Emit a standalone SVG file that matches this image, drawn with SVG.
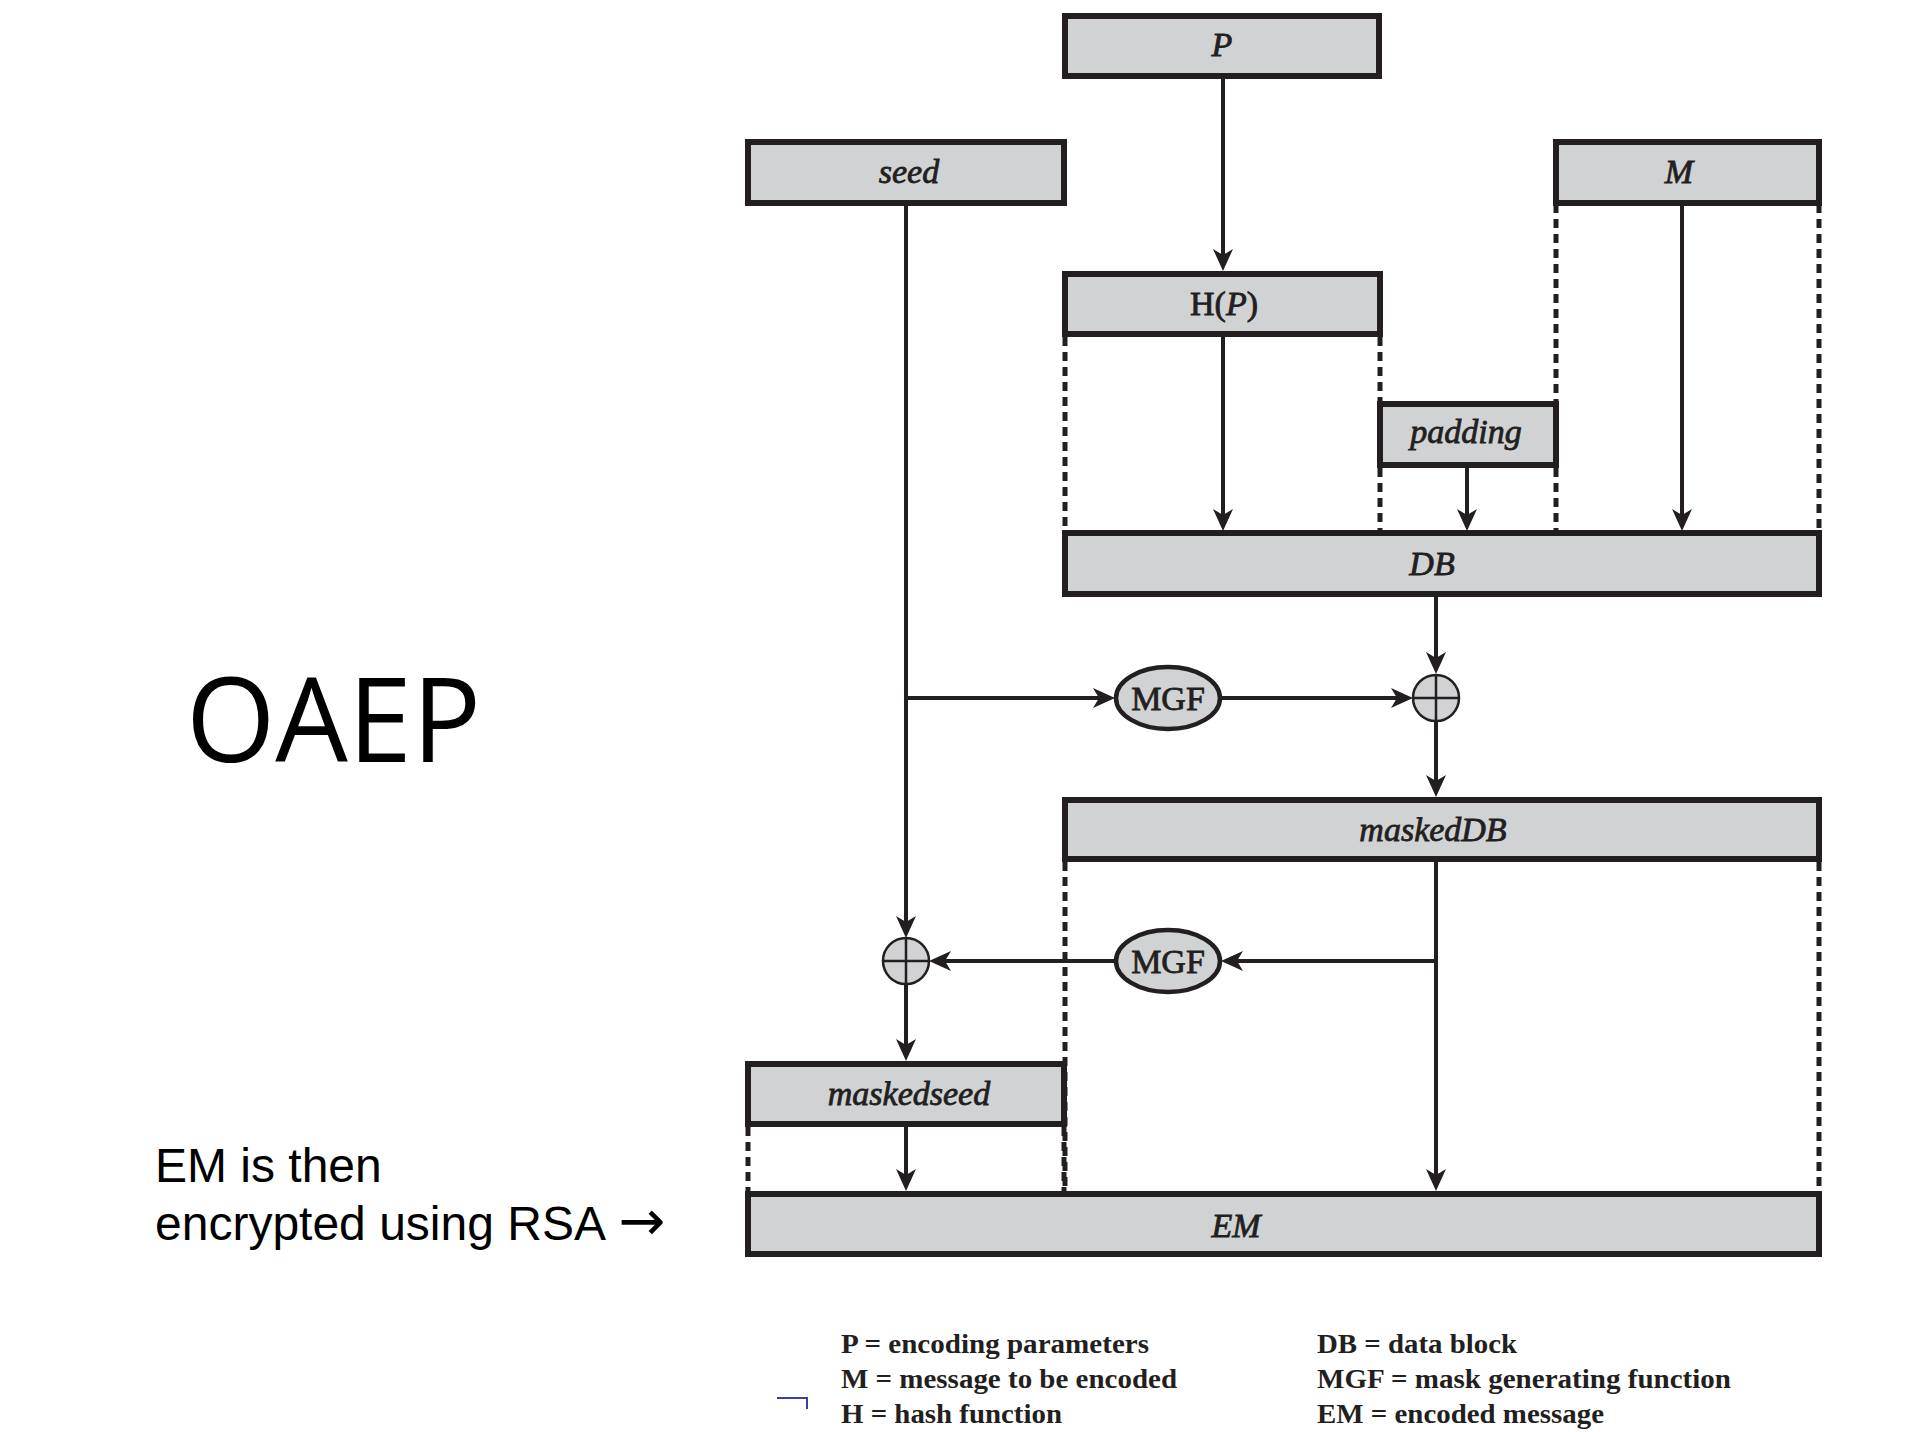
<svg xmlns="http://www.w3.org/2000/svg" width="1908" height="1432" viewBox="0 0 1908 1432">
<defs>
<style>
.box{fill:#d1d2d4;stroke:#231f20;stroke-width:6}
.ell{fill:#d1d2d4;stroke:#231f20;stroke-width:4.5}
.xor{fill:#d1d2d4;stroke:#231f20;stroke-width:2.5}
.xl{stroke:#231f20;stroke-width:2.5;fill:none}
.ln{stroke:#231f20;stroke-width:4;fill:none}
.arr{stroke:#231f20;stroke-width:4;fill:none;marker-end:url(#ah)}
.dash{stroke:#231f20;stroke-width:5;fill:none;stroke-dasharray:9 6}
.lbl{font-family:"Liberation Serif","Times New Roman",serif;font-style:italic;font-size:34px;fill:#231f20;stroke:#231f20;stroke-width:0.8;text-anchor:middle}
.mgf{font-family:"Liberation Serif","Times New Roman",serif;font-size:34px;fill:#231f20;stroke:#231f20;stroke-width:0.8;text-anchor:middle}
.leg{font-family:"Liberation Serif","Times New Roman",serif;font-weight:bold;font-size:28px;fill:#231f20}
.side{font-family:"Liberation Sans",Arial,sans-serif;font-size:48px;fill:#000}
</style>
<marker id="ah" markerUnits="userSpaceOnUse" viewBox="-23 -11 25 22" markerWidth="25" markerHeight="22" refX="-10" refY="0" orient="auto">
<path d="M0,0 L-22,-10 L-16,0 L-22,10 Z" fill="#231f20"/>
</marker>
</defs>
<rect width="1908" height="1432" fill="#fff"/>

<text class="side" x="186" y="762" style="font-family:'Open Sans','Liberation Sans',sans-serif;font-size:118px" textLength="295" lengthAdjust="spacingAndGlyphs">OAEP</text>
<text class="side" x="155" y="1182">EM is then</text>
<text class="side" x="155" y="1240">encrypted using RSA <tspan dx="2" style="font-family:'DejaVu Sans',sans-serif;font-size:56px">→</tspan></text>

<g id="connectors">
<line class="arr" x1="1223" y1="79" x2="1223" y2="261"/>
<line class="ln" x1="906" y1="204" x2="906" y2="700"/>
<line class="arr" x1="906" y1="698" x2="906" y2="928"/>
<line class="arr" x1="904" y1="698" x2="1105" y2="698"/>
<line class="arr" x1="1221" y1="698" x2="1403" y2="698"/>
<line class="arr" x1="1436" y1="597" x2="1436" y2="664"/>
<line class="arr" x1="1436" y1="720" x2="1436" y2="787"/>
<line class="arr" x1="1223" y1="337" x2="1223" y2="521"/>
<line class="arr" x1="1467" y1="468" x2="1467" y2="521"/>
<line class="arr" x1="1682" y1="204" x2="1682" y2="521"/>
<line class="arr" x1="1436" y1="862" x2="1436" y2="1181"/>
<line class="arr" x1="1438" y1="961" x2="1231" y2="961"/>
<line class="arr" x1="1115" y1="961" x2="939" y2="961"/>
<line class="arr" x1="906" y1="984" x2="906" y2="1051"/>
<line class="arr" x1="906" y1="1127" x2="906" y2="1181"/>
<line class="dash" x1="1065" y1="337" x2="1065" y2="531"/>
<line class="dash" x1="1380" y1="337" x2="1380" y2="402"/>
<line class="dash" x1="1380" y1="468" x2="1380" y2="531"/>
<line class="dash" x1="1556" y1="204" x2="1556" y2="402"/>
<line class="dash" x1="1556" y1="468" x2="1556" y2="531"/>
<line class="dash" x1="1819" y1="204" x2="1819" y2="531"/>
<line class="dash" x1="1065" y1="862" x2="1065" y2="1191"/>
<line class="dash" x1="1819" y1="862" x2="1819" y2="1191"/>
<line class="dash" x1="748" y1="1127" x2="748" y2="1191"/>
<line class="dash" x1="1064" y1="1127" x2="1064" y2="1191"/>
</g>

<g id="node-P"><rect class="box" x="1065" y="16" width="314" height="60"/><text class="lbl" x="1222" y="56">P</text></g>
<g id="node-seed"><rect class="box" x="748" y="142" width="316" height="61"/><text class="lbl" x="909" y="183">seed</text></g>
<g id="node-M"><rect class="box" x="1556" y="142" width="263" height="61"/><text class="lbl" x="1679" y="183">M</text></g>
<g id="node-HP"><rect class="box" x="1065" y="274" width="315" height="60"/><text class="mgf" x="1224" y="315">H(<tspan font-style="italic">P</tspan>)</text></g>
<g id="node-padding"><rect class="box" x="1380" y="404" width="176" height="61"/><text class="lbl" x="1466" y="443">padding</text></g>
<g id="node-DB"><rect class="box" x="1065" y="533" width="754" height="61"/><text class="lbl" x="1432" y="575">DB</text></g>
<g id="node-MGF1"><ellipse class="ell" cx="1168" cy="698" rx="52" ry="31"/><text class="mgf" x="1168" y="710">MGF</text></g>
<g id="node-XOR1"><circle class="xor" cx="1436" cy="698" r="23"/><path class="xl" d="M1413,698 H1459 M1436,675 V721"/></g>
<g id="node-maskedDB"><rect class="box" x="1065" y="800" width="754" height="59"/><text class="lbl" x="1433" y="841">maskedDB</text></g>
<g id="node-MGF2"><ellipse class="ell" cx="1168" cy="961" rx="52" ry="31"/><text class="mgf" x="1168" y="973">MGF</text></g>
<g id="node-XOR2"><circle class="xor" cx="906" cy="961" r="23"/><path class="xl" d="M883,961 H929 M906,938 V984"/></g>
<g id="node-maskedseed"><rect class="box" x="748" y="1064" width="316" height="60"/><text class="lbl" x="909" y="1105">maskedseed</text></g>
<g id="node-EM"><rect class="box" x="748" y="1194" width="1071" height="60"/><text class="lbl" x="1236" y="1237">EM</text></g>

<g id="legend">
<text class="leg" x="841" y="1353" textLength="308" lengthAdjust="spacingAndGlyphs">P = encoding parameters</text>
<text class="leg" x="841" y="1388" textLength="336" lengthAdjust="spacingAndGlyphs">M = message to be encoded</text>
<text class="leg" x="841" y="1423" textLength="221" lengthAdjust="spacingAndGlyphs">H = hash function</text>
<text class="leg" x="1317" y="1353" textLength="200" lengthAdjust="spacingAndGlyphs">DB = data block</text>
<text class="leg" x="1317" y="1388" textLength="414" lengthAdjust="spacingAndGlyphs">MGF = mask generating function</text>
<text class="leg" x="1317" y="1423" textLength="287" lengthAdjust="spacingAndGlyphs">EM = encoded message</text>
<path d="M777,1398 H807 V1409" stroke="#3a40a8" stroke-width="2" fill="none"/>
</g>
</svg>
